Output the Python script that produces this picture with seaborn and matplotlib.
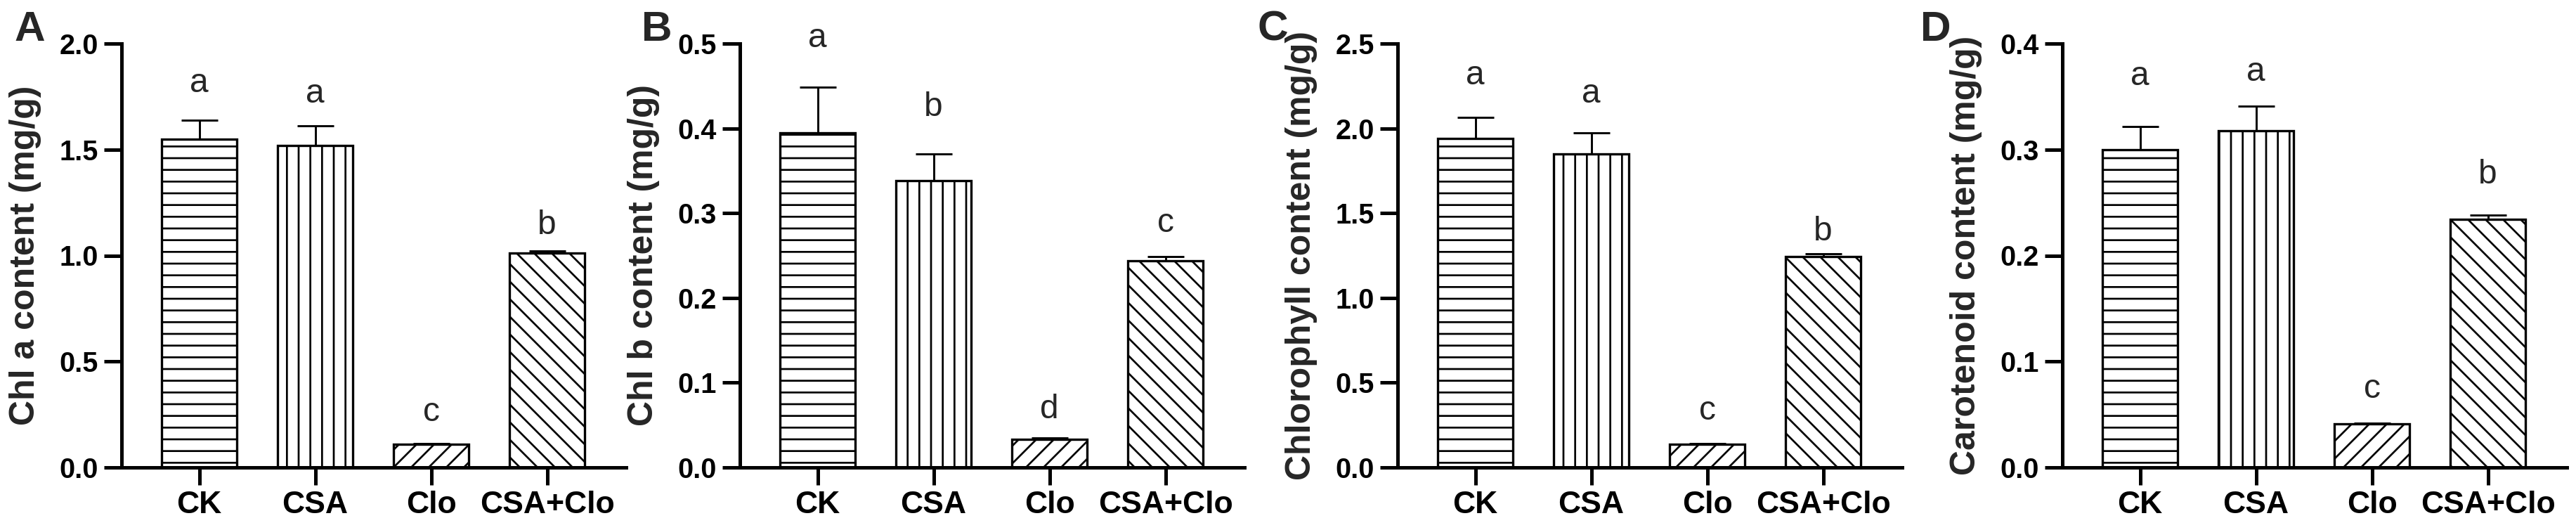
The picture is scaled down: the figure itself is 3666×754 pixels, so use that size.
import matplotlib
matplotlib.use("Agg")
import matplotlib.pyplot as plt
import seaborn as sns
import numpy as np

# ==========================================
# Data
# ==========================================
groups = ["CK", "CSA", "Clo", "CSA+Clo"]

chla_mean = [1.55, 1.52, 0.11, 1.01]
chla_err = [0.087, 0.093, 0.004, 0.012]
chla_letters = ["a", "a", "c", "b"]
chla_letter_y = [1.77, 1.72, 0.22, 1.10]

chlb_mean = [0.395, 0.338, 0.033, 0.244]
chlb_err = [0.054, 0.032, 0.002, 0.005]
chlb_letters = ["a", "b", "d", "c"]
chlb_letter_y = [0.496, 0.415, 0.058, 0.278]

total_mean = [1.94, 1.85, 0.135, 1.245]
total_err = [0.125, 0.125, 0.006, 0.015]
total_letters = ["a", "a", "c", "b"]
total_letter_y = [2.26, 2.15, 0.28, 1.34]

car_mean = [0.300, 0.318, 0.041, 0.234]
car_err = [0.022, 0.023, 0.001, 0.004]
car_letters = ["a", "a", "c", "b"]
car_letter_y = [0.361, 0.365, 0.066, 0.268]

ylabels = [
    "Chl a content (mg/g)",
    "Chl b content (mg/g)",
    "Chlorophyll content (mg/g)",
    "Carotenoid content (mg/g)",
]
panel_tags = ["A", "B", "C", "D"]
ymax = [2.0, 0.5, 2.5, 0.4]
ystep = [0.5, 0.1, 0.5, 0.1]

hatches = ["---", "|||", "////", "\\\\\\\\"]

# ==========================================
# Style
# ==========================================
sns.set_theme(style="ticks")
plt.rcParams["font.family"] = ["Liberation Sans", "DejaVu Sans"]
plt.rcParams["hatch.color"] = "black"
plt.rcParams["hatch.linewidth"] = 0.65
plt.rcParams["axes.linewidth"] = 1.2

W, H, DPI = 3666, 754, 300
fig = plt.figure(figsize=(W / DPI, H / DPI), dpi=DPI)

axis_left_px = [173, 1053, 1989, 2935]
tag_x_px = [20, 913, 1790, 2733]
top_px, base_px = 62, 665
xlim = (-0.67, 3.68)
panel_w_px = (xlim[1] - xlim[0]) * 165

panels = [
    (chla_mean, chla_err, chla_letters, chla_letter_y),
    (chlb_mean, chlb_err, chlb_letters, chlb_letter_y),
    (total_mean, total_err, total_letters, total_letter_y),
    (car_mean, car_err, car_letters, car_letter_y),
]

for i, (means, errs, letters, letter_y) in enumerate(panels):
    ax = fig.add_axes([
        axis_left_px[i] / W,
        (H - base_px) / H,
        panel_w_px / W,
        (base_px - top_px) / H,
    ])

    sns.barplot(
        x=groups,
        y=means,
        color="white",
        saturation=1,
        edgecolor="black",
        linewidth=0.8,
        width=0.65,
        errorbar=None,
        ax=ax,
    )

    for patch, h in zip(ax.patches, hatches):
        patch.set_hatch(h)
        patch.set_facecolor("white")
        patch.set_edgecolor("black")

    pos = np.arange(len(groups))
    ax.errorbar(
        pos,
        means,
        yerr=[np.zeros(len(errs)), errs],
        fmt="none",
        ecolor="black",
        elinewidth=0.7,
        capsize=6.35,
        capthick=0.7,
        zorder=3,
    )

    for x, lab, ly in zip(pos, letters, letter_y):
        ax.text(x, ly, lab, ha="center", va="baseline", fontsize=11.5)

    ax.set_xlim(*xlim)
    ax.set_ylim(0, ymax[i])
    ticks = np.arange(0, ymax[i] + ystep[i] / 2, ystep[i])
    ax.set_yticks(ticks)
    ax.set_yticklabels([f"{t:.1f}" for t in ticks], fontweight="bold", fontsize=9.5)
    ax.set_xticks(pos)
    ax.set_xticklabels(groups, fontweight="bold", fontsize=10.7)
    ax.tick_params(axis="both", direction="out", length=6, width=1.2, pad=2, colors="black")
    ax.set_ylabel(ylabels[i], fontweight="bold", fontsize=12, labelpad=6)
    ax.set_xlabel("")

    sns.despine(ax=ax)
    for side in ["left", "bottom"]:
        ax.spines[side].set_color("black")
        ax.spines[side].set_linewidth(1.2)

    fig.text(
        tag_x_px[i] / W,
        (H - 58) / H,
        panel_tags[i],
        fontsize=14.5,
        fontweight="bold",
        ha="left",
        va="baseline",
    )

fig.savefig("out.png", dpi=DPI, facecolor="white")
